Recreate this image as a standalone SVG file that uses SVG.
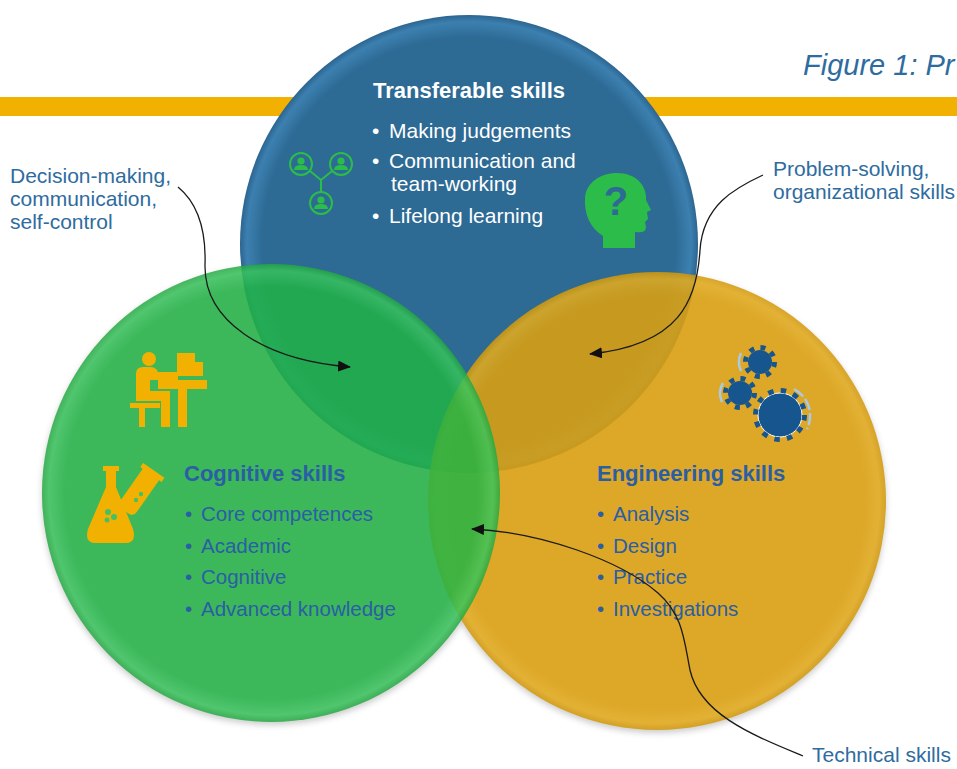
<svg xmlns="http://www.w3.org/2000/svg" width="957" height="769" viewBox="0 0 957 769">
<style>
  .lbl { font-family: "Liberation Sans", Arial, sans-serif; font-size: 21px; fill: #2e6ca0; }
  .wt { font-family: "Liberation Sans", Arial, sans-serif; font-size: 21px; fill: #ffffff; }
  .wtb { font-family: "Liberation Sans", Arial, sans-serif; font-size: 22px; font-weight: bold; fill: #ffffff; }
  .dt { font-family: "Liberation Sans", Arial, sans-serif; font-size: 20.5px; fill: #2a5ea5; }
  .dtb { font-family: "Liberation Sans", Arial, sans-serif; font-size: 22px; font-weight: bold; fill: #2a5ea5; }
  .conn { fill: none; stroke: #1a1a1a; stroke-width: 1.3; marker-end: url(#arr); }
  .ico-g { fill: #2cbc4a; }
  .ico-y { fill: #f2b100; }
  .gear { fill: #17558f; }
  .teeth { fill: none; stroke: #17558f; stroke-width: 5; }
  .garc { fill: none; stroke: #a9cbe8; stroke-width: 2.5; }
</style>
<defs>
  <marker id="arr" markerUnits="userSpaceOnUse" markerWidth="13" markerHeight="11" refX="12" refY="5.5" orient="auto">
    <path d="M0,0 L13,5.5 L0,11 Z" fill="#111111"/>
  </marker>
  <radialGradient id="gBlue" cx="0.5" cy="0.5" r="0.5">
    <stop offset="0" stop-color="#2d6a94"/>
    <stop offset="0.9" stop-color="#2d6a94"/>
    <stop offset="0.97" stop-color="#3c80b0"/>
    <stop offset="1" stop-color="#2c6590"/>
  </radialGradient>
  <radialGradient id="gYel" cx="0.5" cy="0.5" r="0.5">
    <stop offset="0" stop-color="#e0a10c"/>
    <stop offset="0.9" stop-color="#e0a10c"/>
    <stop offset="0.97" stop-color="#e6ad1c"/>
    <stop offset="1" stop-color="#d39808"/>
  </radialGradient>
  <radialGradient id="gGrn" cx="0.5" cy="0.5" r="0.5">
    <stop offset="0" stop-color="#20b444"/>
    <stop offset="0.9" stop-color="#20b444"/>
    <stop offset="0.97" stop-color="#38c55c"/>
    <stop offset="1" stop-color="#22a840"/>
  </radialGradient>
  <filter id="blur" x="-10%" y="-10%" width="120%" height="120%">
    <feGaussianBlur stdDeviation="3"/>
  </filter>
</defs>

<rect width="957" height="769" fill="#ffffff"/>

<!-- header -->
<g id="header">
  <rect x="0" y="97" width="957" height="19" fill="#f2b100"/>
  <text x="803" y="75" font-family="Liberation Sans, Arial, sans-serif" font-size="29" font-style="italic" fill="#2e6ca0">Figure 1: Pr</text>
</g>

<!-- shadows -->
<g id="shadows" opacity="0.3" filter="url(#blur)">
  <circle cx="657" cy="504" r="229" fill="#555555"/>
  <circle cx="271" cy="496" r="229" fill="#555555"/>
</g>

<!-- Transferable skills circle -->
<g id="transferable">
  <circle cx="469" cy="244" r="229" fill="url(#gBlue)"/>
</g>

<!-- Engineering skills circle -->
<g id="engineering-circle">
  <circle cx="657" cy="501" r="229" fill="url(#gYel)" fill-opacity="0.86"/>
</g>

<!-- Cognitive skills circle -->
<g id="cognitive-circle">
  <circle cx="271" cy="493" r="229" fill="url(#gGrn)" fill-opacity="0.835"/>
</g>

<!-- Transferable skills content -->
<g id="transferable-content">
  <text class="wtb" x="373" y="98">Transferable skills</text>
  <text class="wt" y="138"><tspan x="372">•</tspan><tspan x="389">Making judgements</tspan></text>
  <text class="wt" y="168"><tspan x="372">•</tspan><tspan x="389">Communication and</tspan></text>
  <text class="wt" x="391" y="191">team-working</text>
  <text class="wt" y="223"><tspan x="372">•</tspan><tspan x="389">Lifelong learning</tspan></text>
  <!-- people network icon -->
  <g id="icon-people" fill="none" stroke="#2cbc4a" stroke-width="2">
    <circle cx="301" cy="164" r="11"/>
    <circle cx="341" cy="164" r="11"/>
    <circle cx="321" cy="203" r="11"/>
    <path d="M310,171 L321,180 L332,171 M321,180 L321,192"/>
  </g>
  <g class="ico-g">
    <circle cx="301" cy="161" r="3.6"/>
    <path d="M294,170 Q294,165 301,165 Q308,165 308,170 Z"/>
    <circle cx="341" cy="161" r="3.6"/>
    <path d="M334,170 Q334,165 341,165 Q348,165 348,170 Z"/>
    <circle cx="321" cy="200" r="3.6"/>
    <path d="M314,209 Q314,204 321,204 Q328,204 328,209 Z"/>
  </g>
  <!-- head icon -->
  <g id="icon-head">
    <path class="ico-g" d="M603,248 L603,236 C590,228 584,214 585,198 C586,183 600,173 617,173 C635,173 645,184 646,196 L646,200 L651,210 L647,212 L648,219 L645,222 L646,227 C646,232 641,233 635,232 L635,248 Z"/>
    <text x="616" y="215" text-anchor="middle" font-family="Liberation Sans, Arial, sans-serif" font-size="40" font-weight="bold" fill="#2d6a94">?</text>
  </g>
</g>

<!-- Cognitive skills content -->
<g id="cognitive">
  <text class="dtb" x="184" y="481">Cognitive skills</text>
  <text class="dt" y="521"><tspan x="185">•</tspan><tspan x="201">Core competences</tspan></text>
  <text class="dt" y="553"><tspan x="185">•</tspan><tspan x="201">Academic</tspan></text>
  <text class="dt" y="584"><tspan x="185">•</tspan><tspan x="201">Cognitive</tspan></text>
  <text class="dt" y="616"><tspan x="185">•</tspan><tspan x="201">Advanced knowledge</tspan></text>
  <!-- desk icon -->
  <g id="icon-desk" class="ico-y">
    <circle cx="149" cy="359" r="7"/>
    <path d="M177,353 L195,353 L195,362 L203,362 L203,376 L177,376 Z"/>
    <rect x="158" y="380" width="49" height="9"/>
    <rect x="178" y="389" width="9" height="38"/>
    <path d="M136,374 Q136,367 143,367 L150,367 Q156,367 158,372 L178,372 L178,380 L150,380 L150,391 L170,391 L170,427 L161,427 L161,401 L136,401 Z"/>
    <rect x="130" y="403" width="30" height="5"/>
    <rect x="139" y="408" width="6" height="19"/>
  </g>
  <!-- flask icon -->
  <g id="icon-flask">
    <path class="ico-y" d="M103,466 L119,466 L119,471 L116,471 L116,487 L133,529 Q137,543 125,543 L96,543 Q84,543 88,529 L106,487 L106,471 L103,471 Z"/>
    <g transform="rotate(35 140 490)">
      <path class="ico-y" d="M127,466 L153,466 L153,471 L150,471 L150,510 Q150,516 144,516 L136,516 Q130,516 130,510 L130,471 L127,471 Z"/>
    </g>
    <g fill="#45c063">
      <circle cx="108" cy="512" r="3"/>
      <circle cx="114" cy="517" r="3"/>
      <circle cx="107" cy="520" r="2.5"/>
      <circle cx="141" cy="494" r="2.2"/>
      <circle cx="136" cy="500" r="2.2"/>
    </g>
  </g>
</g>

<!-- Engineering skills content -->
<g id="engineering">
  <text class="dtb" x="597" y="481">Engineering skills</text>
  <text class="dt" y="521"><tspan x="597">•</tspan><tspan x="613">Analysis</tspan></text>
  <text class="dt" y="553"><tspan x="597">•</tspan><tspan x="613">Design</tspan></text>
  <text class="dt" y="584"><tspan x="597">•</tspan><tspan x="613">Practice</tspan></text>
  <text class="dt" y="616"><tspan x="597">•</tspan><tspan x="613">Investigations</tspan></text>
  <!-- gears icon -->
  <g id="icon-gears">
    <path class="garc" d="M741,353 A21,21 0 0 0 741,371"/>
    <path class="garc" d="M723,383 A20,20 0 0 0 722,402"/>
    <path class="garc" d="M794,389 A30,30 0 0 1 807,429" stroke-dasharray="12 3"/>
    <circle class="gear" cx="760" cy="362" r="12"/>
    <circle class="teeth" cx="760" cy="362" r="14.5" stroke-dasharray="5 6.39"/>
    <circle class="gear" cx="740" cy="393" r="12"/>
    <circle class="teeth" cx="740" cy="393" r="14.5" stroke-dasharray="5 6.39"/>
    <circle class="gear" cx="780" cy="415" r="22" stroke="#ffffff" stroke-width="1"/>
    <circle class="teeth" cx="780" cy="415" r="24.5" stroke-dasharray="5.5 7.33"/>
  </g>
</g>

<!-- outside labels -->
<g id="label-decision">
  <text class="lbl" x="10" y="183">Decision-making,</text>
  <text class="lbl" x="10" y="206">communication,</text>
  <text class="lbl" x="10" y="229">self-control</text>
</g>
<g id="label-problem">
  <text class="lbl" x="773" y="176">Problem-solving,</text>
  <text class="lbl" x="773" y="199">organizational skills</text>
</g>
<g id="label-technical">
  <text class="lbl" x="812" y="762" font-size="20">Technical skills</text>
</g>

<!-- connectors -->
<g id="connectors">
  <path class="conn" d="M178,187 C200,205 206,235 205,265 C204,320 262,360 350,367"/>
  <path class="conn" d="M763,175 C735,188 703,205 700,250 C697,300 680,345 590,354"/>
  <path class="conn" d="M803,756 C755,736 700,715 690,670 C684,640 683,615 658,593 C620,560 540,532 472,529"/>
</g>
</svg>
